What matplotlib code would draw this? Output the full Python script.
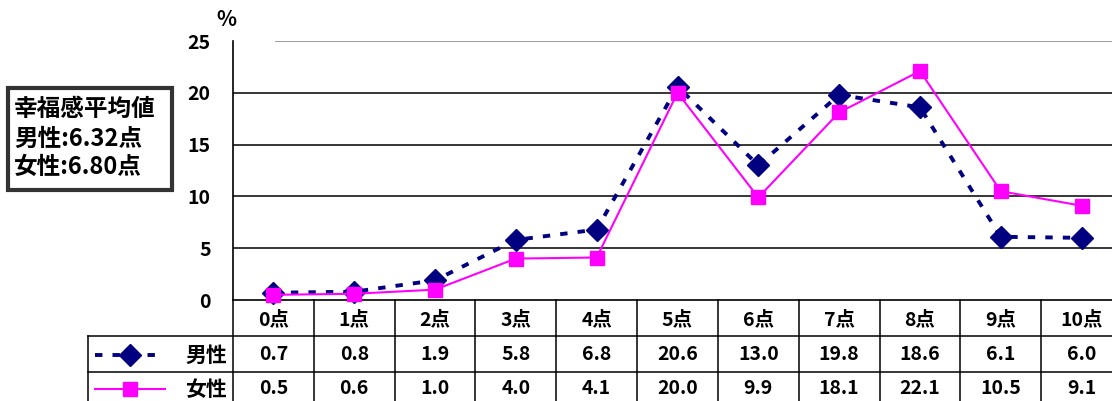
import numpy as np
import matplotlib.pyplot as plt
from matplotlib.transforms import blended_transform_factory
from matplotlib.patches import Rectangle

plt.rcParams['font.family'] = ['Noto Sans CJK JP', 'DejaVu Sans']

# --- data ---
categories = ['0点', '1点', '2点', '3点', '4点', '5点', '6点', '7点', '8点', '9点', '10点']
male = [0.7, 0.8, 1.9, 5.8, 6.8, 20.6, 13.0, 19.8, 18.6, 6.1, 6.0]
female = [0.5, 0.6, 1.0, 4.0, 4.1, 20.0, 9.9, 18.1, 22.1, 10.5, 9.1]
series_names = ['男性', '女性']
y_ticks = [0, 5, 10, 15, 20, 25]
note_lines = ['幸福感平均値', '男性:6.32点', '女性:6.80点']

navy = '#000080'
magenta = '#FF00FF'

W, H = 1112, 401
fig = plt.figure(figsize=(W / 100, H / 100), dpi=100)

# plot area in pixels: axis at x=233, zero at y=300, 25 at y=41
ax_l, ax_r, ax_t, ax_b = 233, 1122, 41, 300
ax = fig.add_axes([ax_l / W, 1 - ax_b / H, (ax_r - ax_l) / W, (ax_b - ax_t) / H])
x = np.arange(len(categories))
ax.set_xlim(-0.5, len(categories) - 0.5)
ax.set_ylim(0, 25)

for s in ['top', 'right', 'bottom']:
    ax.spines[s].set_visible(False)
ax.spines['left'].set_linewidth(1.2)

# grid lines
for v in y_ticks[1:-1]:
    ax.axhline(v, color='black', lw=1.1, zorder=1)
ax.axhline(25, xmin=(276 - ax_l) / (ax_r - ax_l), color='#808080', lw=1.1, zorder=1)
ax.axhline(0, color='black', lw=1.2, zorder=1, clip_on=False)

ax.set_xticks([])
ax.set_yticks(y_ticks)
ax.set_yticklabels([str(v) for v in y_ticks], fontsize=14, fontweight='bold')
ax.tick_params(axis='y', length=0, pad=16)
ax.text(226 / W, 1 - 20 / H, '%', transform=fig.transFigure, ha='center', va='center',
        fontsize=15, fontweight='bold')

male_style = dict(color=navy, lw=2.8, dashes=(1.9, 2.6), dash_capstyle='butt',
                  marker='D', ms=11, mfc=navy, mec=navy)
female_style = dict(color=magenta, lw=1.5, marker='s', ms=9.5, mfc=magenta, mec=magenta)

ax.plot(x, male, clip_on=False, zorder=3, **male_style)
ax.plot(x, female, clip_on=False, zorder=4, **female_style)

# --- data table below the plot ---
tr = blended_transform_factory(ax.transData, ax.transAxes)
ph = ax_b - ax_t


def fy(px):
    return (ax_b - px) / ph


unit = (ax_r - ax_l) / len(categories)


def fx(px):
    return -0.5 + (px - ax_l) / unit


row_hdr, row1, row2, row_end = 300, 336, 372, 410
left_px = 88

for b in np.arange(len(categories) + 1) - 0.5:
    ax.plot([b, b], [fy(row_hdr), fy(row_end)], color='black', lw=1.1,
            transform=tr, clip_on=False)
for r in [row1, row2]:
    ax.plot([fx(left_px), len(categories) - 0.5], [fy(r), fy(r)], color='black',
            lw=1.1, transform=tr, clip_on=False)
ax.plot([fx(left_px), fx(left_px)], [fy(row1), fy(row_end)], color='black', lw=1.1,
        transform=tr, clip_on=False)

for i, c in enumerate(categories):
    ax.text(i, fy(320), c, transform=tr, ha='center', va='center',
            fontsize=14, fontweight='bold')
    ax.text(i, fy(355), f'{male[i]:.1f}', transform=tr, ha='center', va='center',
            fontsize=14, fontweight='bold')
    ax.text(i, fy(389), f'{female[i]:.1f}', transform=tr, ha='center', va='center',
            fontsize=14, fontweight='bold')

# legend keys inside the table
for name, yc, style in [(series_names[0], 355, male_style), (series_names[1], 389, female_style)]:
    ax.plot([fx(95), fx(165)], [fy(yc), fy(yc)], transform=tr, clip_on=False,
            **{k: v for k, v in style.items() if k not in ('marker', 'ms', 'mfc', 'mec')})
    ax.plot([fx(130)], [fy(yc)], transform=tr, clip_on=False, ls='none',
            marker=style['marker'], ms=style['ms'], mfc=style['mfc'], mec=style['mec'])
    ax.text(fx(227), fy(yc), name, transform=tr, ha='right', va='center',
            fontsize=15, fontweight='bold')

# --- average note box ---
fig.patches.append(Rectangle((8 / W, 1 - 190 / H), 164 / W, 102 / H, transform=fig.transFigure,
                             fill=False, edgecolor='#333333', lw=3))
for t, yc in zip(note_lines, [109, 139, 167]):
    fig.text(14 / W, 1 - yc / H, t, ha='left', va='center', fontsize=17, fontweight='bold')

fig.savefig('out.png', dpi=100)
